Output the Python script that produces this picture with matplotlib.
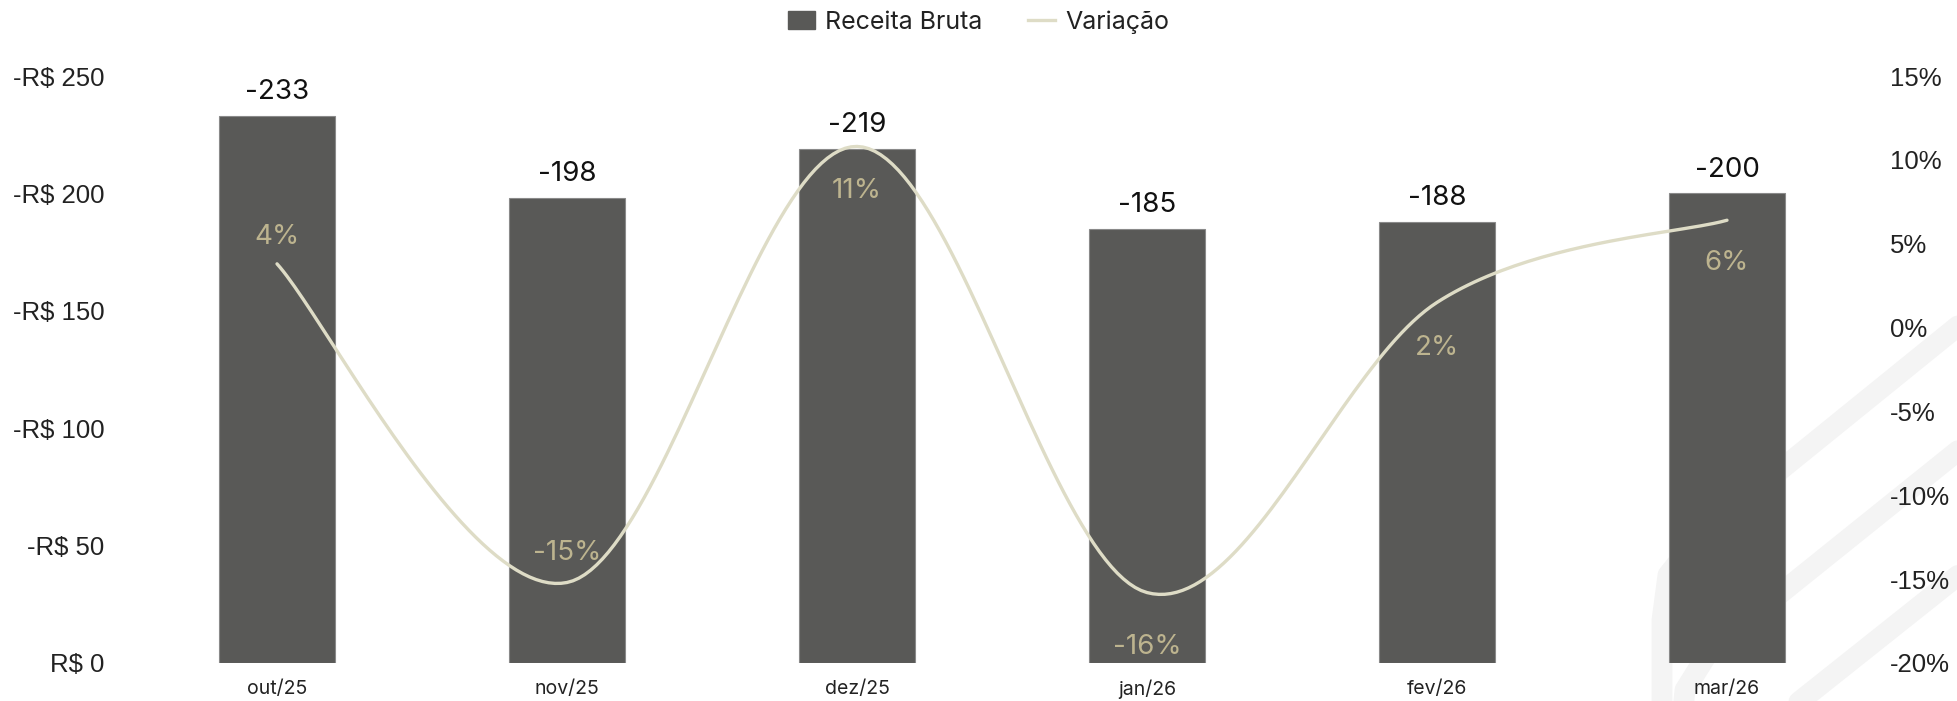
import numpy as np
import matplotlib
matplotlib.use("Agg")
import matplotlib.pyplot as plt
from matplotlib.lines import Line2D
from matplotlib.patches import Patch

# data
meses = ["out/25", "nov/25", "dez/25", "jan/26", "fev/26", "mar/26"]
receita = [233, 198, 219, 185, 188, 200]          # shown as negative values
variacao = [3.8, -15.2, 10.8, -15.8, 1.5, 6.4]     # percent
variacao_txt = ["4%", "-15%", "11%", "-16%", "2%", "6%"]
receita_ticks = [0, 50, 100, 150, 200, 250]
variacao_ticks = [-20, -15, -10, -5, 0, 5, 10, 15]

bar_color = "#595957"
line_color = "#dedcc6"
pct_color = "#bdb48f"
W, H = 1957, 701

plt.rcParams["font.family"] = ["Inter", "DejaVu Sans"]

fig = plt.figure(figsize=(W / 100, H / 100), dpi=100)

# faint watermark chevrons in the corner (figure pixel coords)
def fig_xy(pts):
    return [p[0] / W for p in pts], [1 - p[1] / H for p in pts]

for pts in [[(1990, 300), (1700, 535), (1668, 575), (1662, 620), (1662, 720)],
            [(1990, 425), (1710, 650), (1685, 690), (1682, 720)],
            [(1990, 550), (1770, 725)]]:
    xs, ys = fig_xy(pts)
    fig.add_artist(Line2D(xs, ys, transform=fig.transFigure, color="#f4f4f4",
                          lw=15, solid_capstyle="round", solid_joinstyle="round",
                          zorder=-5))

ax = fig.add_axes([132 / W, 1 - 663 / H, (1872 - 132) / W, (663 - 76) / H])
ax.patch.set_visible(False)
x = np.arange(len(meses))
ax.bar(x, receita, width=0.4, color=bar_color, edgecolor="#8a8a8a", linewidth=0.8, zorder=2)
ax.set_xlim(-0.5, len(meses) - 0.5)
ax.set_ylim(0, 250)
ax.set_yticks(receita_ticks)
ax.set_yticklabels(["R$ 0" if v == 0 else f"-R$ {v}" for v in receita_ticks],
                   family=["Liberation Sans"], fontsize=18.5, color="#222222")
ax.set_xticks(x)
ax.set_xticklabels(meses, fontsize=14, color="#222222")
ax.tick_params(axis="y", length=0, pad=20)
ax.tick_params(axis="x", length=0, pad=12)
for s in ax.spines.values():
    s.set_visible(False)

for xi, v in zip(x, receita):
    ax.annotate(f"-{v}", (xi, v), xytext=(0, 17), textcoords="offset points",
                ha="center", va="center", fontsize=20, color="#111111")

# smoothed line, excel style bezier
ax2 = ax.twinx()
ax2.patch.set_visible(False)
ax2.set_ylim(-20, 15)
ax2.set_yticks(variacao_ticks)
ax2.set_yticklabels([f"{v}%" for v in variacao_ticks], family=["Liberation Sans"],
                    fontsize=18.5, color="#222222")
ax2.tick_params(axis="y", length=0, pad=13)
for s in ax2.spines.values():
    s.set_visible(False)

yv = np.array(variacao, dtype=float)
n = len(yv)
cx, cy = [], []
for i in range(n - 1):
    p0 = np.array([x[max(i - 1, 0)], yv[max(i - 1, 0)]])
    p1 = np.array([x[i], yv[i]])
    p2 = np.array([x[i + 1], yv[i + 1]])
    p3 = np.array([x[min(i + 2, n - 1)], yv[min(i + 2, n - 1)]])
    c1 = p1 + (p2 - p0) / 6
    c2 = p2 - (p3 - p1) / 6
    t = np.linspace(0, 1, 50)[:, None]
    seg = (1 - t) ** 3 * p1 + 3 * (1 - t) ** 2 * t * c1 + 3 * (1 - t) * t ** 2 * c2 + t ** 3 * p2
    cx.extend(seg[:, 0])
    cy.extend(seg[:, 1])
ax2.plot(cx, cy, color=line_color, lw=2.4, zorder=3, solid_capstyle="round")

pct_offsets = [19, 21, -32, -39, -33, -31]
for xi, v, txt, off in zip(x, variacao, variacao_txt, pct_offsets):
    ax2.annotate(txt, (xi, v), xytext=(0, off), textcoords="offset points",
                 ha="center", va="center", fontsize=20, color=pct_color)

handles = [Patch(facecolor=bar_color, edgecolor=bar_color, label="Receita Bruta"),
           Line2D([], [], color=line_color, lw=2.4, label="Variação")]
fig.legend(handles=handles, loc="center", bbox_to_anchor=(0.5, 1 - 22 / H), ncol=2,
           frameon=False, handlelength=1.1, handleheight=0.7,
           columnspacing=1.8, handletextpad=0.4, labelcolor="#222222",
           prop={"size": 18})

fig.savefig("out.png", dpi=100)
